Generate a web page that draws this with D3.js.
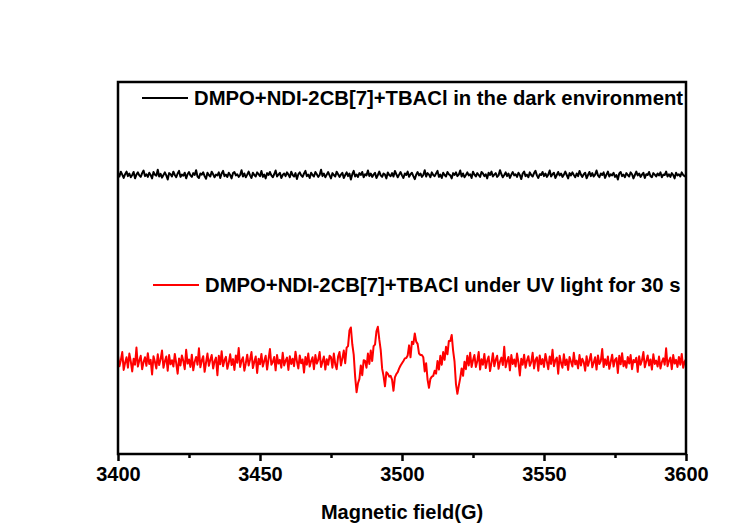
<!DOCTYPE html>
<html>
<head>
<meta charset="utf-8">
<script src="https://cdn.jsdelivr.net/npm/d3@7"></script>
<style>
  body { margin: 0; background: #fff; }
  text { font-family: "Liberation Sans", Arial, sans-serif; font-weight: bold; fill: #000; }
</style>
</head>
<body>
<svg id="chart" width="750" height="526"></svg>
<script>
// field sweep: start, step (G)
var fieldStart = 3400
var fieldStep = 0.5

var xTicks = [3400, 3450, 3500, 3550, 3600]
var xMinorTicks = [3425, 3475, 3525, 3575]

var labels = [
  "DMPO+NDI-2CB[7]+TBACl in the dark environment",
  "DMPO+NDI-2CB[7]+TBACl under UV light for 30 s"
]

// intensity (a.u.), dark sample
var darkSignal = [
  255,246,259,251,242,252,259,247,254,244,250,258,241,251,257,249,245,255,262,247,
  252,245,256,250,241,258,251,248,264,246,253,243,250,257,249,238,255,252,246,259,
  250,244,254,261,245,251,248,256,241,252,258,249,245,255,250,263,246,242,254,251,
  257,247,240,256,250,246,259,252,244,251,249,257,242,254,261,247,251,245,256,250,
  241,255,258,249,252,245,250,263,246,254,244,251,259,249,242,256,250,246,257,252,
  247,261,245,251,241,255,250,258,249,244,252,262,246,251,256,242,250,254,247,257,
  251,244,259,250,246,255,239,252,257,249,245,254,261,247,251,242,256,250,246,258,
  252,245,250,264,247,254,244,251,258,249,241,255,250,246,259,252,245,251,256,242,
  250,257,247,254,238,252,261,246,251,245,255,250,258,244,252,249,262,247,254,245,
  251,256,242,250,259,249,245,254,251,241,257,250,247,255,246,261,252,244,251,258,
  249,242,254,250,259,245,252,256,247,239,251,258,249,254,245,250,263,246,255,251,
  244,257,250,247,254,261,245,251,242,256,250,246,258,252,249,241,255,250,257,247,
  251,262,246,254,244,250,257,249,252,242,259,251,246,255,250,245,258,254,247,252,
  241,256,250,259,246,251,255,245,249,263,252,244,250,257,247,254,242,251,258,249,
  252,245,256,250,239,254,259,247,251,244,257,250,246,255,261,249,242,252,250,258,
  247,254,245,251,262,246,252,256,242,250,258,249,254,245,251,259,250,241,255,249,
  257,250,244,254,247,261,251,245,252,256,241,250,258,247,255,246,251,262,249,244,
  254,250,257,242,251,259,246,252,249,256,245,250,238,254,258,247,251,244,255,250,
  246,257,252,241,250,259,249,254,245,251,256,242,252,250,258,247,244,255,251,246,
  254,249,257,244,251,250,259,246,252,245,255,250,241,256,249,252,246,257,250,247,
  250
]

// intensity (a.u.), under UV light
var uvSignal = [
  -236,-264,-248,-226,-274,-255,-240,-268,-230,-251,-278,-244,-260,-214,-265,-249,-236,-272,-253,-240,
  -263,-229,-258,-247,-286,-237,-252,-270,-232,-261,-245,-222,-268,-251,-238,-276,-234,-259,-248,-265,
  -231,-256,-284,-243,-262,-235,-250,-272,-220,-257,-246,-266,-233,-275,-252,-239,-260,-216,-267,-249,
  -237,-279,-254,-230,-263,-247,-234,-270,-251,-241,-288,-236,-259,-224,-264,-248,-239,-271,-255,-232,
  -261,-245,-274,-235,-255,-215,-266,-249,-240,-276,-256,-233,-262,-246,-226,-269,-252,-238,-282,-244,
  -259,-231,-265,-250,-236,-273,-245,-218,-260,-253,-239,-275,-234,-257,-247,-268,-228,-262,-249,-241,
  -274,-237,-258,-244,-264,-225,-251,-270,-235,-256,-246,-281,-239,-260,-230,-265,-250,-240,-272,-234,
  -257,-247,-226,-266,-252,-238,-273,-245,-260,-236,
  // 3475 - 3525 G: spin adduct lines
  -240,-268,-230,-259,-272,-238,-226,-262,-243,-222,
  -256,-214,-210,-168,-160,-205,-233,-292,-334,-310,
  -298,-262,-288,-248,-250,-268,-230,-258,-222,-250,
  -210,-206,-170,-158,-192,-220,-270,-290,-318,-280,
  -284,-292,-290,-300,-330,-294,-285,-280,-270,-262,
  -256,-250,-243,-242,-235,-208,-240,-198,-204,-176,
  -198,-204,-230,-234,-234,-240,-278,-256,-300,-322,
  -298,-292,-290,-276,-284,-250,-273,-236,-260,-226,
  -247,-212,-232,-196,-196,-180,-222,-252,-312,-338,
  -316,-296,-270,-290,-252,-272,-236,-262,-228,-266,
  -248,
  -234,-266,-251,-226,-273,-245,-260,-231,-269,-249,-238,-277,-255,-229,-264,-247,-236,-271,-252,-241,
  -261,-212,-267,-250,-239,-275,-234,-258,-246,-265,-230,-254,-289,-244,-260,-233,-268,-249,-237,-263,
  -253,-228,-270,-247,-240,-276,-235,-259,-245,-266,-231,-251,-272,-238,-258,-220,-264,-248,-241,-284,
  -236,-255,-268,-232,-261,-246,-274,-239,-252,-265,-228,-259,-249,-270,-234,-262,-244,-253,-276,-237,
  -263,-248,-231,-267,-254,-240,-273,-235,-258,-250,-218,-266,-245,-261,-238,-271,-252,-233,-265,-247,
  -242,-282,-236,-259,-229,-264,-250,-268,-239,-257,-234,-272,-247,-253,-241,-279,-237,-260,-248,-226,
  -267,-251,-235,-262,-246,-273,-232,-258,-249,-265,-238,-270,-253,-243,-260,-216,-264,-250,-241,-272,
  -234,-257,-247,-266,-239,-260,-231,-268,-252,-245
]

var colors = ["#000000", "#ff0000"]

var margin = { top: 82, right: 64, bottom: 72, left: 118 }
var width = 750 - margin.left - margin.right
var height = 526 - margin.top - margin.bottom

var svg = d3.select("#chart")
var g = svg.append("g")
  .attr("transform", "translate(" + margin.left + "," + margin.top + ")")

var x = d3.scaleLinear()
  .domain([3400, 3600])
  .range([0, width])

var y = d3.scaleLinear()
  .domain([-500, 500])
  .range([height, 0])

g.append("clipPath")
  .attr("id", "plot-clip")
  .append("rect")
  .attr("width", width)
  .attr("height", height)

function toPoints(values) {
  return values.map(function(v, i) { return [fieldStart + i * fieldStep, v] })
}

var line = d3.line()
  .x(function(d) { return x(d[0]) })
  .y(function(d) { return y(d[1]) })

var series = [toPoints(darkSignal), toPoints(uvSignal)]

g.selectAll(".trace")
  .data(series)
  .enter().append("path")
  .attr("class", "trace")
  .attr("clip-path", "url(#plot-clip)")
  .attr("fill", "none")
  .attr("stroke", function(d, i) { return colors[i] })
  .attr("stroke-width", 2)
  .attr("stroke-linejoin", "round")
  .attr("d", line)

// frame
g.append("rect")
  .attr("width", width)
  .attr("height", height)
  .attr("fill", "none")
  .attr("stroke", "#000")
  .attr("stroke-width", 2.5)

var xAxis = g.append("g")
  .attr("transform", "translate(0," + height + ")")
  .call(d3.axisBottom(x).tickValues(xTicks).tickSize(7).tickPadding(6).tickFormat(d3.format("d")))

xAxis.select(".domain").remove()
xAxis.selectAll("line").attr("stroke-width", 2.5)
xAxis.selectAll("text")
  .attr("fill", "#000")
  .style("font-size", "20px")
  .style("font-family", "'Liberation Sans', Arial, sans-serif")
  .style("font-weight", "bold")

var xMinor = g.append("g")
  .attr("transform", "translate(0," + height + ")")
  .call(d3.axisBottom(x).tickValues(xMinorTicks).tickSize(4).tickFormat(""))
xMinor.select(".domain").remove()
xMinor.selectAll("line").attr("stroke-width", 2.5)

g.append("text")
  .attr("x", width / 2)
  .attr("y", height + 65)
  .attr("text-anchor", "middle")
  .style("font-size", "20px")
  .text("Magnetic field(G)")

// legends
var legendPos = [[24, 16], [35, 203]]
var legend = g.selectAll(".legend")
  .data(labels)
  .enter().append("g")
  .attr("class", "legend")
  .attr("transform", function(d, i) { return "translate(" + legendPos[i][0] + "," + legendPos[i][1] + ")" })

legend.append("line")
  .attr("x1", 0).attr("x2", 46)
  .attr("stroke", function(d, i) { return colors[i] })
  .attr("stroke-width", 2)

legend.append("text")
  .attr("x", 52)
  .attr("dy", "0.35em")
  .style("font-size", "20.3px")
  .text(function(d) { return d })
</script>
</body>
</html>
